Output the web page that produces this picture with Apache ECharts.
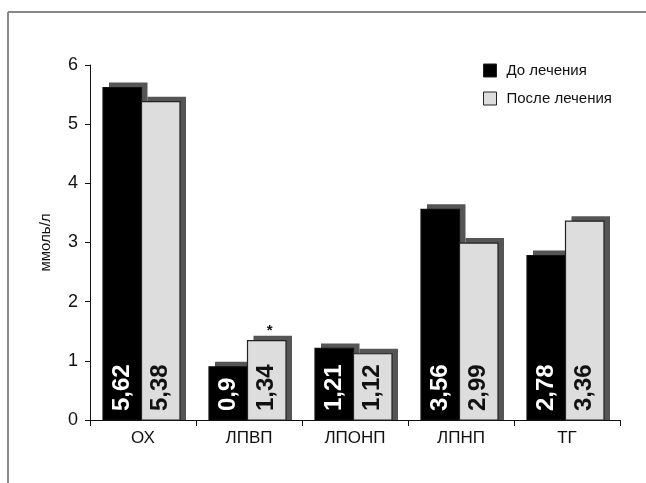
<!DOCTYPE html>
<html>
<head>
<meta charset="utf-8">
<script src="https://cdn.jsdelivr.net/npm/echarts@6/dist/echarts.min.js"></script>
<style>
  html, body { margin: 0; padding: 0; background: #fff; }
  #chart { width: 646px; height: 483px; }
</style>
</head>
<body>
<div id="chart"></div>
<script>
// Lipid profile before and after treatment, mmol/L
const categories = ['ОХ', 'ЛПВП', 'ЛПОНП', 'ЛПНП', 'ТГ'];
const before = [5.62, 0.9, 1.21, 3.56, 2.78];
const after = [5.38, 1.34, 1.12, 2.99, 3.36];
const seriesNames = ['До лечения', 'После лечения'];
const yTicks = [0, 1, 2, 3, 4, 5, 6];

const narrow = '"Liberation Sans Narrow", "Liberation Sans", Arial, sans-serif';
const boldFont = '"Liberation Sans", Arial, sans-serif';
const fmt = v => String(v).replace('.', ',');

// bar geometry relative to the category centre (px)
const BAR_W = 38.5;
const SHADOW_DX = 6, SHADOW_DY = 5;
const SHADOW_COLOR = '#555';

// One series = one bar per category, with a drop shadow offset up-right
// and its value written vertically inside the bar.
function makeRenderer(side, fill, stroke, textColor) {
  return function (params, api) {
    const idx = api.value(0);
    const val = api.value(1);
    const top = api.coord([idx, val]);
    const base = api.coord([idx, 0]);
    const cx = top[0] - 1.5;
    const x0 = side === 0 ? cx - BAR_W : cx;
    const h = base[1] - top[1];
    const children = [
      {
        type: 'rect',
        shape: { x: x0 + SHADOW_DX, y: top[1] - SHADOW_DY, width: BAR_W, height: h + SHADOW_DY },
        style: { fill: SHADOW_COLOR }
      },
      {
        type: 'rect',
        shape: { x: x0, y: top[1], width: BAR_W, height: h },
        style: { fill: fill, stroke: stroke, lineWidth: 1.2 }
      },
      {
        type: 'text',
        x: x0 + BAR_W / 2,
        y: base[1] - 9,
        rotation: Math.PI / 2,
        style: {
          text: fmt(val),
          x: 0, y: 0,
          align: 'left',
          verticalAlign: 'middle',
          fill: textColor,
          font: 'bold 24px ' + boldFont
        }
      }
    ];
    if (side === 1 && categories[idx] === 'ЛПВП') {
      children.push({
        type: 'text',
        x: x0 + BAR_W / 2 + 3,
        y: top[1] - 10,
        style: {
          text: '*', x: 0, y: 0, align: 'center', verticalAlign: 'middle',
          fill: '#111', font: 'bold 15px ' + boldFont
        }
      });
    }
    return { type: 'group', children: children };
  };
}

function customSeries(name, values, side, fill, stroke, textColor) {
  return {
    name: name,
    type: 'custom',
    data: values.map((v, i) => [i, v]),
    encode: { x: 0, y: 1 },
    itemStyle: { color: fill, borderColor: '#222', borderWidth: 1 },
    renderItem: makeRenderer(side, fill, stroke, textColor),
    emphasis: { disabled: true },
    z: 2 + side
  };
}

const chart = echarts.init(document.getElementById('chart'), null, { renderer: 'canvas' });

chart.setOption({
  animation: false,
  backgroundColor: '#fff',
  grid: { left: 90, right: 26, top: 65, bottom: 63 },
  legend: {
    data: seriesNames,
    orient: 'vertical',
    left: 478,
    top: 58,
    icon: 'rect',
    itemWidth: 13,
    itemHeight: 13,
    itemGap: 13,
    itemStyle: { borderColor: '#222', borderWidth: 1 },
    textStyle: { fontFamily: narrow, fontSize: 15, color: '#111', padding: [0, 0, 0, 5] }
  },
  xAxis: {
    type: 'category',
    data: categories,
    axisLine: { lineStyle: { color: '#111', width: 1 } },
    axisTick: { show: true, length: 6, lineStyle: { color: '#111' } },
    axisLabel: { fontFamily: narrow, fontSize: 17, color: '#111', margin: 10 }
  },
  yAxis: {
    type: 'value',
    min: yTicks[0],
    max: yTicks[yTicks.length - 1],
    interval: 1,
    name: 'ммоль/л',
    nameLocation: 'middle',
    nameGap: 37,
    nameTextStyle: { fontFamily: narrow, fontSize: 15, color: '#111' },
    axisLine: { show: true, lineStyle: { color: '#111', width: 1 } },
    axisTick: { show: true, length: 5, lineStyle: { color: '#111' } },
    splitLine: { show: false },
    axisLabel: { fontFamily: narrow, fontSize: 18, color: '#111', margin: 12 }
  },
  graphic: [
    { type: 'line', shape: { x1: 8, y1: 12, x2: 646, y2: 12 }, style: { stroke: '#888', lineWidth: 2 } },
    { type: 'line', shape: { x1: 8, y1: 12, x2: 8, y2: 483 }, style: { stroke: '#888', lineWidth: 2 } }
  ],
  series: [
    customSeries(seriesNames[0], before, 0, '#000', '#111', '#fff'),
    customSeries(seriesNames[1], after, 1, '#ddd', '#222', '#111')
  ]
});
</script>
</body>
</html>
